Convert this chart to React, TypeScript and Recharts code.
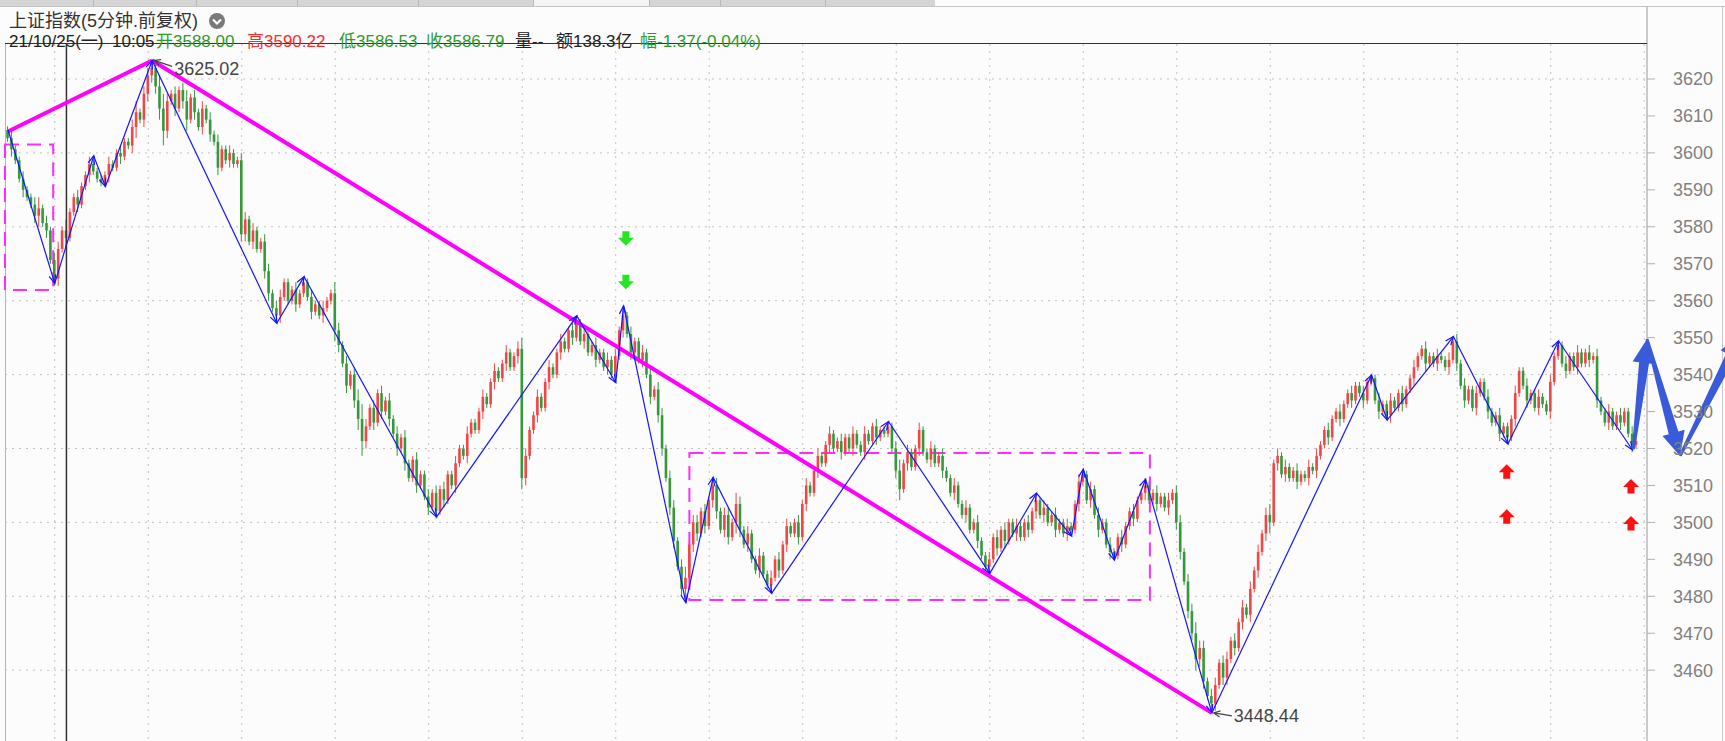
import React from 'react';
import { ComposedChart, Bar, XAxis, YAxis, CartesianGrid, ReferenceLine, ReferenceArea, ReferenceDot } from 'recharts';

// 5 min bars, open of each bar = previous close
const firstOpen = 3606.2;
const closes = [
  3604, 3601, 3598, 3593, 3590, 3588, 3586, 3583, 3585, 3581, 3579, 3571, 3566,
  3574, 3579, 3577, 3584, 3588, 3586, 3591, 3594, 3597, 3595, 3593, 3592,
  3594, 3597, 3596, 3600, 3599, 3603, 3602, 3607, 3611, 3609, 3616, 3621,
  3623, 3618, 3612, 3606, 3614, 3616, 3612, 3617, 3614, 3609, 3615, 3611,
  3607, 3612, 3609, 3605, 3603, 3596, 3601, 3598, 3600, 3597, 3598, 3578,
  3582, 3576, 3579, 3574, 3576, 3568, 3562, 3558, 3556, 3561, 3565, 3560,
  3563, 3559, 3562, 3565, 3561, 3557, 3559, 3556, 3558, 3560, 3562, 3552,
  3548, 3543, 3537, 3540, 3533, 3528, 3522, 3526, 3531, 3527, 3535, 3530,
  3533, 3528, 3524, 3520, 3523, 3516, 3512, 3517, 3510, 3513, 3507, 3504,
  3508, 3503, 3509, 3506, 3513, 3510, 3516, 3520, 3518, 3524, 3527, 3525,
  3530, 3534, 3532, 3538, 3541, 3539, 3543, 3546, 3542, 3545, 3547, 3512,
  3518, 3525, 3529, 3534, 3531, 3538, 3542, 3540, 3546, 3549, 3547, 3552, 3550, 3554,
  3549, 3551, 3546, 3548, 3544, 3546, 3542, 3544, 3540, 3545, 3552, 3556,
  3551, 3546, 3549, 3544, 3546, 3540, 3534, 3536, 3529, 3520, 3512, 3504, 3495, 3488,
  3482, 3485, 3494, 3500, 3497, 3503, 3499, 3506, 3510, 3503, 3498,
  3502, 3496, 3500, 3505, 3498, 3494, 3497, 3490, 3487, 3491, 3486, 3483, 3485,
  3490, 3487, 3494, 3499, 3497, 3500, 3496, 3505, 3510, 3508, 3514, 3518, 3516, 3521,
  3524, 3520, 3522, 3519, 3523, 3520, 3524, 3521, 3519, 3524, 3522, 3526, 3523, 3525, 3524, 3526,
  3520, 3514, 3509, 3516, 3519, 3515, 3520, 3525, 3519, 3517, 3520, 3516, 3518, 3514, 3512,
  3508, 3510, 3505, 3502, 3504, 3498, 3500, 3495, 3491, 3488, 3490,
  3496, 3493, 3498, 3495, 3500, 3497, 3499, 3496, 3500, 3498, 3503, 3506,
  3502, 3504, 3500, 3502, 3498, 3500, 3497, 3499, 3498, 3505, 3511, 3513,
  3506, 3509, 3502, 3498, 3500, 3494, 3492, 3491, 3496, 3494, 3499, 3503, 3501, 3506, 3508, 3510,
  3506, 3508, 3505, 3507, 3504, 3506, 3508, 3500, 3492, 3484, 3476, 3470, 3463, 3466, 3457, 3453, 3451,
  3456, 3462, 3458, 3463, 3468, 3466, 3473, 3477, 3475, 3482, 3487, 3492, 3497, 3502, 3500, 3516,
  3518, 3513, 3515, 3512, 3514, 3511, 3513, 3512, 3515, 3514, 3518, 3521, 3525, 3523, 3528, 3530, 3528, 3532, 3535, 3533, 3537, 3535, 3533, 3538, 3539,
  3533, 3530, 3532, 3529, 3533, 3531, 3535, 3532, 3536, 3539, 3542, 3545, 3547, 3543, 3545, 3543, 3545, 3544, 3542, 3544, 3549,
  3543, 3537, 3533, 3536, 3531, 3535, 3538, 3534, 3530, 3527, 3529, 3524, 3526, 3523,
  3528, 3535, 3541, 3537, 3533, 3535, 3531, 3534, 3532, 3530, 3538, 3545, 3548,
  3543, 3541, 3545, 3542, 3546, 3543, 3546, 3544, 3545, 3533, 3530, 3527, 3530, 3526, 3529, 3527, 3530, 3524, 3521, 3522,
];
// shadow length beyond the body, per bar
const wicks = [
  1, 2, 1, 1, 2, 1, 1, 2, 3, 1, 2, 1, 2,
  2, 1, 3, 1, 1, 2, 1, 1, 2, 1, 1, 1,
  1, 2, 1, 1, 2, 1, 1, 2, 3, 1, 2, 2,
  2, 2, 3, 4, 2, 1, 2, 1, 2, 3, 1, 2,
  1, 2, 1, 2, 1, 2, 1, 1, 2, 1, 1, 2,
  2, 1, 2, 1, 1, 2, 2, 1, 2, 2, 1, 1,
  1, 2, 1, 1, 1, 2, 1, 1, 2, 1, 1, 3,
  2, 1, 2, 1, 2, 3, 4, 2, 1, 2, 1, 2,
  1, 2, 1, 2, 1, 2, 1, 1, 2, 1, 1, 2,
  1, 2, 1, 2, 1, 1, 2, 1, 1, 2, 1, 1,
  1, 2, 1, 1, 2, 1, 1, 2, 1, 1, 2, 3,
  2, 1, 1, 2, 1, 1, 2, 1, 1, 2, 1, 1, 2, 1,
  1, 2, 1, 1, 2, 1, 1, 2, 1, 2, 1, 2,
  1, 2, 1, 1, 2, 1, 2, 1, 2, 2, 1, 2, 2, 1,
  2, 3, 1, 2, 2, 1, 2, 1, 2, 2, 1,
  2, 2, 1, 3, 2, 1, 2, 1, 1, 2, 1, 1, 2,
  1, 2, 1, 2, 1, 1, 2, 1, 2, 1, 1, 2, 1, 1,
  2, 1, 1, 2, 1, 1, 2, 1, 1, 2, 1, 1, 2, 1, 1, 1,
  1, 2, 3, 1, 2, 1, 1, 2, 1, 1, 2, 1, 1, 2, 1,
  1, 2, 1, 1, 2, 1, 1, 2, 1, 1, 2,
  1, 2, 1, 2, 1, 1, 2, 1, 1, 2, 1, 2,
  1, 2, 1, 1, 2, 1, 1, 2, 1, 1, 2, 1,
  1, 2, 1, 2, 1, 1, 2, 1, 1, 2, 1, 1, 2, 1, 1, 2,
  1, 1, 2, 1, 1, 2, 1, 2, 2, 1, 2, 2, 3, 2, 2, 1, 2,
  2, 1, 2, 2, 1, 2, 1, 2, 1, 2, 1, 2, 1, 2, 3, 1,
  2, 1, 2, 1, 1, 2, 1, 1, 2, 1, 2, 1, 1, 2, 1, 1, 2, 1, 1, 2, 1, 1, 2, 1, 1,
  1, 2, 1, 1, 2, 1, 1, 2, 1, 1, 2, 1, 1, 2, 1, 1, 2, 1, 1, 2, 1,
  2, 1, 2, 1, 1, 2, 1, 1, 2, 1, 1, 2, 1, 1,
  1, 2, 1, 1, 2, 1, 1, 2, 1, 1, 2, 1, 1,
  1, 2, 1, 1, 2, 1, 1, 2, 1, 2, 1, 1, 2, 1, 1, 2, 1, 1, 2, 1,
];

const priceTicks = [3460, 3470, 3480, 3490, 3500, 3510, 3520, 3530, 3540, 3550, 3560, 3570, 3580, 3590, 3600, 3610, 3620];
const gridPrices = [3460, 3480, 3500, 3520, 3540, 3560, 3580, 3600, 3620];
const gridBars = [12, 36, 60, 84, 108, 132, 156, 180, 204, 228, 252, 276, 300, 324, 348, 372, 396, 420];

// zigzag (blue) turning points
const zigBars = [0, 12, 22, 25, 37, 69, 76, 110, 146, 156, 158, 174, 181, 196, 226, 252, 264, 273, 276, 284, 292, 309, 350, 354, 371, 385, 398, 417];
const zigValues = [3606.2, 3564.7, 3599.2, 3590.9, 3625.02, 3553.9, 3566.5, 3501.5, 3555.9, 3537.8, 3558.6, 3478.3, 3512.2, 3480.8, 3527.3, 3486.2, 3507.9, 3496.3, 3514.4, 3489.8, 3511.7, 3448.44, 3539.9, 3527.7, 3550.3, 3521.2, 3549.1, 3519.6];

// magenta trend line
const trendBars = [0, 37, 309];
const trendValues = [3605.8, 3625.02, 3448.44];

// dashed boxes
const boxFrom = [-0.77, 174.9];
const boxTo = [11.6, 293.1];
const boxLow = [3562.9, 3479.0];
const boxHigh = [3602.3, 3518.8];

// projected path (thick arrows)
const projBars = [417.2, 420.7, 429.2, 445];
const projValues = [3519.8, 3549.6, 3518, 3551];

const sellBars = [158.6, 158.6];
const sellValues = [3576.9, 3565.1];
const buyBars = [384.7, 384.7, 416.6, 416.6];
const buyValues = [3513.7, 3501.5, 3509.7, 3499.7];

const extremeBars = [37, 309];
const extremeValues = [3625.02, 3448.44];
const cursorBar = 15;

const candles = closes.map((close, i) => {
  const open = i === 0 ? firstOpen : closes[i - 1];
  const high = Math.max(open, close) + wicks[i];
  const low = Math.min(open, close) - wicks[i];
  return { i, open, close, high, low, range: [low, high] };
});

const zigLegs = zigBars.slice(1).map((b, k) => [
  { x: zigBars[k], y: zigValues[k] },
  { x: b, y: zigValues[k + 1] },
]);
const trendLegs = trendBars.slice(1).map((b, k) => [
  { x: trendBars[k], y: trendValues[k] },
  { x: b, y: trendValues[k + 1] },
]);
const projLegs = projBars.slice(1).map((b, k) => [
  { x: projBars[k], y: projValues[k] },
  { x: b, y: projValues[k + 1] },
]);

const UP = '#f24545';
const DOWN = '#35983a';
const FONT = '"Liberation Sans", "Noto Sans CJK SC", sans-serif';

const Candle = (props: any) => {
  const { x, y, width, height, payload } = props;
  if (!payload || x == null) return null;
  const { open, close, high, low } = payload;
  const color = close >= open ? UP : DOWN;
  const top = Math.min(y, y + height);
  const bottom = Math.max(y, y + height);
  const k = high > low ? (bottom - top) / (high - low) : 0;
  const yo = top + (high - open) * k;
  const yc = top + (high - close) * k;
  const cx = x + width / 2;
  return (
    <g>
      <line x1={cx} x2={cx} y1={top} y2={bottom} stroke={color} strokeWidth={1} />
      <rect x={cx - 1.3} y={Math.min(yo, yc)} width={2.6} height={Math.max(1, Math.abs(yc - yo))} fill={color} />
    </g>
  );
};

const ZigLeg = (p: any) => {
  const { x1, y1, x2, y2 } = p;
  const a = Math.atan2(y2 - y1, x2 - x1);
  const len = 9;
  const s = 0.38;
  const h1 = `${x2 - len * Math.cos(a - s)},${y2 - len * Math.sin(a - s)}`;
  const h2 = `${x2 - len * Math.cos(a + s)},${y2 - len * Math.sin(a + s)}`;
  return (
    <g>
      <line x1={x1} y1={y1} x2={x2} y2={y2} stroke="#1414ff" strokeWidth={1.2} />
      <polyline points={`${h1} ${x2},${y2} ${h2}`} fill="none" stroke="#1414ff" strokeWidth={1.2} />
    </g>
  );
};

const ProjArrow = (p: any) => {
  const { x1, y1, x2, y2 } = p;
  const dx = x2 - x1;
  const dy = y2 - y1;
  const L = Math.hypot(dx, dy) || 1;
  const ux = dx / L;
  const uy = dy / L;
  const nx = -uy;
  const ny = ux;
  const head = 24;
  const bx = x2 - ux * head;
  const by = y2 - uy * head;
  const pt = (px: number, py: number, w: number) => `${px + nx * w},${py + ny * w}`;
  const pts = [
    pt(x1, y1, 1.5), pt(bx, by, 5), pt(bx, by, 11.5), `${x2},${y2}`,
    pt(bx, by, -11.5), pt(bx, by, -5), pt(x1, y1, -1.5),
  ].join(' ');
  return <polygon points={pts} fill="#3a5bd9" />;
};

const BlockArrow = (color: string, down: boolean) => (p: any) => {
  const { cx, cy } = p;
  const d = down ? 1 : -1;
  const pts = [
    [cx - 3.5, cy - 7 * d], [cx + 3.5, cy - 7 * d], [cx + 3.5, cy - 0.5 * d], [cx + 8, cy - 0.5 * d],
    [cx, cy + 7.5 * d], [cx - 8, cy - 0.5 * d], [cx - 3.5, cy - 0.5 * d],
  ].map((q) => q.join(',')).join(' ');
  return <polygon points={pts} fill={color} />;
};

const ExtremeLabel = (p: any) => {
  const { cx, cy, payloadText, below } = p;
  const ty = below ? cy + 9 : cy + 15;
  const ey = below ? cy + 3 : cy + 6;
  const a = Math.atan2(cy - ey, cx + 2 - (cx + 20));
  const h1 = `${cx + 2 - 7 * Math.cos(a - 0.45)},${cy - 7 * Math.sin(a - 0.45)}`;
  const h2 = `${cx + 2 - 7 * Math.cos(a + 0.45)},${cy - 7 * Math.sin(a + 0.45)}`;
  return (
    <g>
      <line x1={cx + 20} y1={ey} x2={cx + 2} y2={cy} stroke="#444" strokeWidth={1.2} />
      <polyline points={`${h1} ${cx + 2},${cy} ${h2}`} fill="none" stroke="#444" strokeWidth={1.2} />
      <text x={cx + 22} y={ty} fontSize={18} fontFamily={FONT} fill="#444">{payloadText}</text>
    </g>
  );
};

const headerItems = [
  { text: '21/10/25(一)', x: 9, color: '#222' },
  { text: '10:05', x: 112, color: '#222' },
  { text: '开3588.00', x: 156, color: '#2e9a2e' },
  { text: '高3590.22', x: 247, color: '#f03030' },
  { text: '低3586.53', x: 339, color: '#2e9a2e' },
  { text: '收3586.79', x: 426, color: '#2e9a2e' },
  { text: '量--', x: 515, color: '#222' },
  { text: '额138.3亿', x: 556, color: '#222' },
  { text: '幅-1.37(-0.04%)', x: 640, color: '#2e9a2e' },
];
const tabEdges = [93, 196, 297, 418, 533, 649, 720, 825];

const abs = (l: number, t: number, w: number, h: number, bg: string): React.CSSProperties => ({
  position: 'absolute', left: l, top: t, width: w, height: h, background: bg,
});

export default function App() {
  return (
    <div style={{ position: 'relative', width: 1725, height: 741, background: '#fcfcfc', overflow: 'hidden', fontFamily: FONT }}>
      <style>{'body{margin:0}'}</style>
      {/* tab strip */}
      <div style={abs(0, 0, 935, 6, '#d5d5d5')} />
      <div style={abs(533, 0, 116, 6, '#f4f4f4')} />
      {tabEdges.map((e) => <div key={e} style={abs(e, 0, 1, 6, '#b8b8b8')} />)}
      <div style={abs(0, 6, 1725, 1, '#c4c4c4')} />
      {/* frame lines */}
      <div style={abs(5, 44, 1, 697, '#b5b5b5')} />
      <div style={abs(1646, 7, 2, 734, '#cacaca')} />
      <div style={abs(1722, 7, 1, 734, '#c8c8c8')} />

      <div style={{ position: 'absolute', left: 0, top: 0 }}>
        <ComposedChart width={1725} height={741} data={candles} margin={{ top: 44, right: 0, left: 5, bottom: 0 }}>
          <CartesianGrid
            stroke="#c2c2c2"
            strokeDasharray="2 5"
            horizontalValues={gridPrices}
            verticalValues={gridBars}
          />
          <XAxis dataKey="i" type="number" domain={[-0.77, 420.7]} allowDataOverflow hide />
          <YAxis
            orientation="right"
            width={78}
            type="number"
            domain={[3440.84, 3629.47]}
            allowDataOverflow
            ticks={priceTicks}
            interval={0}
            axisLine={false}
            tickSize={8}
            tickMargin={18}
            tickLine={{ stroke: '#b0b0b0' }}
            tick={{ fill: '#808080', fontSize: 18, fontFamily: FONT }}
          />
          <Bar dataKey="range" barSize={3} shape={<Candle />} isAnimationActive={false} />
          <ReferenceLine x={cursorBar} stroke="#333" strokeWidth={1.5} />
          {trendLegs.map((seg, k) => (
            <ReferenceLine key={`t${k}`} segment={seg} stroke="#ff00ff" strokeWidth={4} ifOverflow="visible" />
          ))}
          {boxFrom.map((x1, k) => (
            <ReferenceArea
              key={`b${k}`}
              x1={x1}
              x2={boxTo[k]}
              y1={boxLow[k]}
              y2={boxHigh[k]}
              fill="none"
              fillOpacity={0}
              stroke="#ff2cff"
              strokeWidth={2}
              strokeDasharray="14 8"
              ifOverflow="visible"
            />
          ))}
          {zigLegs.map((seg, k) => (
            <ReferenceLine key={`z${k}`} segment={seg} ifOverflow="visible" shape={(p: any) => <ZigLeg {...p} />} />
          ))}
          {projLegs.map((seg, k) => (
            <ReferenceLine key={`p${k}`} segment={seg} ifOverflow="visible" shape={(p: any) => <ProjArrow {...p} />} />
          ))}
          {sellBars.map((b, k) => (
            <ReferenceDot key={`s${k}`} x={b} y={sellValues[k]} ifOverflow="visible" shape={BlockArrow('#22e622', true)} />
          ))}
          {buyBars.map((b, k) => (
            <ReferenceDot key={`u${k}`} x={b} y={buyValues[k]} ifOverflow="visible" shape={BlockArrow('#ff1010', false)} />
          ))}
          {extremeBars.map((b, k) => (
            <ReferenceDot
              key={`e${k}`}
              x={b}
              y={extremeValues[k]}
              ifOverflow="visible"
              shape={(p: any) => <ExtremeLabel {...p} payloadText={extremeValues[k].toFixed(2)} below={k === 1} />}
            />
          ))}
        </ComposedChart>
      </div>

      {/* header */}
      <div style={abs(5, 43, 1642, 1, '#333')} />
      <div style={{ position: 'absolute', left: 9, top: 11, fontSize: 18, lineHeight: '21px', color: '#333', whiteSpace: 'nowrap' }}>
        上证指数(5分钟.前复权)
      </div>
      <svg style={{ position: 'absolute', left: 208, top: 12 }} width={18} height={18}>
        <circle cx={9} cy={9} r={8} fill="#7a7a7a" />
        <polyline points="5,7.5 9,11.5 13,7.5" fill="none" stroke="#fff" strokeWidth={2} />
      </svg>
      {headerItems.map((h) => (
        <div
          key={h.text}
          style={{ position: 'absolute', left: h.x, top: 31, fontSize: 17, lineHeight: '21px', color: h.color, whiteSpace: 'nowrap' }}
        >
          {h.text}
        </div>
      ))}
    </div>
  );
}
